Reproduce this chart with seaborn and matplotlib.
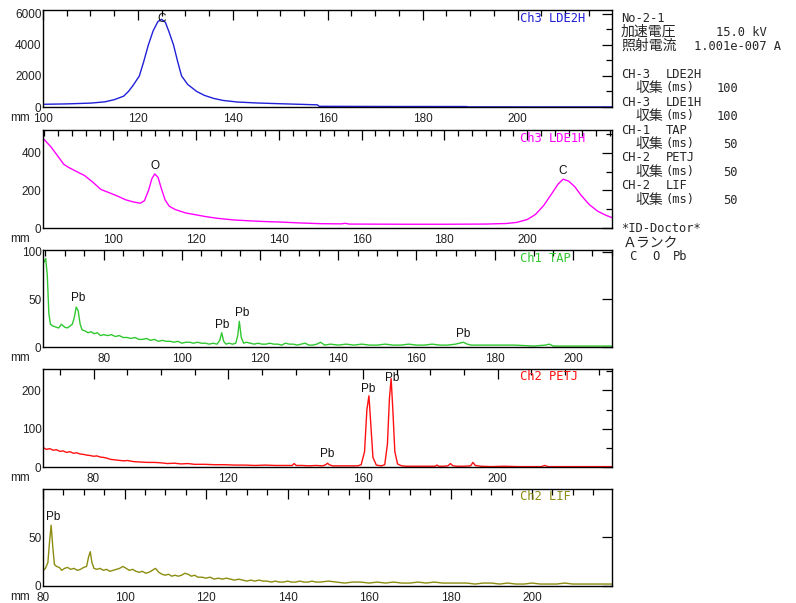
import matplotlib
matplotlib.use("Agg")
import matplotlib.pyplot as plt
import matplotlib.ticker as mticker
import seaborn as sns

sns.set_theme(style="white")
plt.rcParams["font.family"] = ["Liberation Sans", "DejaVu Sans"]
plt.rcParams["axes.edgecolor"] = "black"

W, H = 796, 603
MONO = ["DejaVu Sans Mono", "Noto Sans CJK JP"]
CJK = ["Noto Sans CJK JP", "DejaVu Sans"]

# --- Ch3 LDE2H -------------------------------------------------------------
lde2h_x = [100, 105, 110, 113, 115, 117, 118, 119, 120.3, 121.2,
           122.2, 123.2, 124.2, 125, 125.8, 126.6, 127.5, 128.4, 129.2, 130.5,
           132.4, 134, 136, 138, 141, 145, 150, 157.8, 158.2, 170,
           189.2, 189.6, 200, 210, 220]
lde2h_y = [175, 200, 250, 330, 470, 700, 1000, 1400, 2000, 2900,
           4000, 4900, 5500, 5650, 5450, 4800, 4000, 2900, 2000, 1450,
           1000, 750, 550, 420, 320, 260, 210, 140, 45, 35,
           30, 8, 6, 5, 5]

# --- Ch3 LDE1H -------------------------------------------------------------
lde1h_x = [83, 85, 87, 88, 89, 91, 93, 95, 97, 99,
           101, 103, 105, 106.5, 107.5, 108.5, 109.3, 110, 110.8, 111.6,
           112.5, 113.5, 115, 117.5, 120, 122.5, 125, 129, 133, 137,
           140, 145, 150, 155, 156, 157, 170, 180, 190, 195,
           197.5, 200, 202, 204, 206, 207.5, 208.7, 210, 211.5, 213,
           215, 217, 219, 220.5]
lde1h_y = [478, 430, 370, 340, 325, 302, 280, 245, 205, 188,
           170, 150, 138, 132, 145, 200, 262, 288, 270, 210,
           150, 116, 98, 80, 70, 60, 52, 43, 38, 34,
           32, 27, 23, 22, 25, 21, 20, 20, 21, 24,
           30, 45, 72, 120, 185, 235, 260, 250, 220, 175,
           125, 90, 68, 55]

# --- Ch1 TAP ---------------------------------------------------------------
tap_x = [64.6, 65.2, 65.6, 66.0, 66.4, 67.0, 67.8, 68.5, 69.2, 70.0,
         70.7, 71.4, 72.0, 72.5, 73.0, 73.5, 74.0, 74.5, 75.2, 76.0,
         76.8, 77.6, 78.4, 79.2, 80.0, 81.0, 82.0, 83.0, 84.0, 85.0,
         86, 87, 88, 89, 90, 91, 92, 93, 94, 95,
         96, 97, 98, 99, 100, 101, 102, 103, 104, 105,
         106, 107, 108, 109, 109.7, 110.2, 110.7, 111.3, 112, 113,
         113.8, 114.3, 114.7, 115.2, 115.8, 116.5, 117.5, 118.5, 119.5, 120.5,
         121.5, 122.5, 123.5, 124.5, 125.5, 126.5, 127.5, 128.5, 129.5, 130.5,
         131.5, 132.5, 133.5, 134.5, 135.5, 136.5, 138, 140, 142, 144,
         146, 148, 150, 152, 154, 156, 158, 160, 162, 164,
         166, 168, 170, 171, 172, 173, 174, 176, 180, 185,
         190, 193, 194, 195, 200, 205, 208, 210]
tap_y = [88, 93, 75, 35, 24, 22, 21, 20, 24, 21,
         20, 22, 24, 31, 42, 38, 24, 18, 17, 15,
         16, 14, 15, 12, 13, 12, 13, 11, 12, 10,
         10, 9, 10, 8, 8, 9, 7, 8, 6, 7,
         6, 6, 5, 6, 4, 5, 5, 4, 5, 4,
         4, 3, 4, 3, 7, 15, 6, 3, 4, 3,
         4, 12, 27, 10, 4, 5, 4, 3, 4, 3,
         3, 4, 3, 3, 2, 4, 3, 3, 2, 3,
         4, 2, 2, 3, 5, 2, 3, 2, 3, 2,
         3, 2, 2, 3, 2, 2, 3, 2, 2, 3,
         2, 2, 3, 4, 5, 3, 2, 2, 2, 2,
         1, 2, 3, 1, 1, 1, 1, 1]

# --- Ch2 PETJ --------------------------------------------------------------
petj_x = [65.2, 66, 67, 68, 69, 70, 71, 72, 73, 74,
          75, 76, 77, 78, 79, 80, 81, 82, 83, 84,
          85, 86, 87, 88, 89, 90, 92, 94, 96, 98,
          100, 102, 104, 106, 108, 110, 113, 116, 119, 122,
          125, 128, 131, 134, 137, 139, 139.6, 140.2, 142, 144,
          146, 148, 149, 149.5, 150, 151, 153, 155, 157, 158.5,
          159.5, 160.5, 161.2, 161.8, 162.3, 163, 164, 165.5, 166.5, 167.3,
          167.9, 168.4, 168.9, 169.5, 170.3, 171.5, 173, 176, 179, 181.5,
          182, 182.5, 184, 185.3, 186, 186.8, 188, 190, 192, 192.7,
          193.4, 195, 198, 202, 206, 210, 213, 214, 215, 218,
          222, 226, 230, 234]
petj_y = [50, 46, 48, 44, 45, 41, 42, 38, 40, 36,
          37, 34, 33, 31, 30, 28, 29, 26, 25, 23,
          20, 19, 18, 17, 16, 17, 14, 13, 12, 12,
          11, 9, 10, 8, 9, 7, 7, 6, 6, 5,
          5, 4, 5, 4, 4, 4, 9, 4, 4, 3,
          4, 3, 6, 10, 6, 3, 3, 3, 3, 3,
          6, 40, 150, 186, 120, 25, 5, 3, 6, 60,
          180, 231, 150, 40, 8, 3, 2, 2, 2, 2,
          5, 2, 2, 3, 9, 3, 2, 2, 3, 12,
          4, 2, 1, 2, 1, 1, 1, 4, 1, 1,
          1, 1, 1, 1]

# --- Ch2 LIF ---------------------------------------------------------------
lif_x = [80.1, 80.6, 81.2, 81.6, 82.0, 82.4, 82.8, 83.3, 84.0, 84.6,
         85.3, 86.0, 86.8, 87.6, 88.4, 89.2, 90.0, 90.7, 91.2, 91.6,
         92.0, 92.5, 93.2, 94.0, 94.8, 95.6, 96.4, 97.2, 98.0, 98.8,
         99.6, 100.4, 101.2, 102.0, 102.8, 103.6, 104.4, 105.2, 106.0, 106.8,
         107.6, 108.4, 109.2, 110.0, 110.8, 111.6, 112.4, 113.2, 114.0, 114.8,
         115.6, 116.4, 117.2, 118.0, 119, 120, 121, 122, 123, 124,
         125, 126, 127, 128, 129, 130, 131, 132, 133, 134,
         135, 136, 137, 138, 139, 140, 141, 142, 143, 144,
         145, 146, 147, 148, 150, 152, 154, 156, 158, 160,
         162, 164, 166, 168, 170, 172, 174, 176, 178, 180,
         182, 184, 186, 188, 190, 192, 194, 196, 198, 200,
         202, 204, 206, 208, 210, 212, 214, 216, 218, 219.5]
lif_y = [16, 18, 24, 45, 62, 40, 22, 20, 19, 16,
         18, 19, 17, 18, 16, 17, 19, 20, 30, 35,
         24, 18, 17, 18, 16, 17, 15, 16, 17, 18,
         20, 18, 16, 17, 15, 14, 15, 13, 14, 16,
         18, 14, 12, 11, 12, 10, 11, 10, 11, 13,
         12, 10, 11, 9, 9, 8, 9, 7, 8, 7,
         8, 7, 6, 7, 6, 5, 6, 5, 6, 5,
         5, 4, 5, 4, 4, 5, 4, 4, 5, 4,
         4, 5, 4, 4, 5, 4, 3, 4, 4, 3,
         4, 3, 4, 3, 3, 4, 3, 4, 3, 3,
         3, 3, 2, 3, 3, 2, 3, 2, 2, 3,
         2, 2, 2, 3, 2, 2, 2, 2, 2, 2]

# peak labels: (x, y, text)
lde2h_peaks = [(125, 5700, "C")]
lde1h_peaks = [(110, 330, "O"), (208.6, 305, "C")]
tap_peaks = [(73.5, 52, "Pb"), (110.2, 23, "Pb"), (115.5, 36, "Pb"), (172, 14, "Pb")]
petj_peaks = [(149.5, 34, "Pb"), (161.6, 204, "Pb"), (168.6, 232, "Pb")]
lif_peaks = [(82.5, 70, "Pb")]

# condition block on the right (pixel x, pixel y, text)
INFO_MONO = [
    (621, 18, "No-2-1"),
    (716, 32, "15.0 kV"),
    (694, 46, "1.001e-007 A"),
    (621, 74, "CH-3"), (666, 74, "LDE2H"), (665, 88, "(ms)"),
    (621, 102, "CH-3"), (666, 102, "LDE1H"), (665, 116, "(ms)"),
    (621, 130, "CH-1"), (666, 130, "TAP"), (665, 144, "(ms)"),
    (621, 158, "CH-2"), (666, 158, "PETJ"), (665, 172, "(ms)"),
    (621, 186, "CH-2"), (666, 186, "LIF"), (665, 200, "(ms)"),
    (621, 229, "*ID-Doctor*"),
    (629, 256, "C"), (652, 256, "O"), (673, 256, "Pb"),
]
INFO_CJK = [
    (621, 32, "加速電圧"), (621, 46, "照射電流"),
    (636, 88, "収集"), (636, 116, "収集"), (636, 144, "収集"),
    (636, 172, "収集"), (636, 200, "収集"),
    (623, 242, "Ａランク"),
]
ACQ_MS = [(88, "100"), (116, "100"), (144, "50"), (172, "50"), (200, "50")]

panels = [
    dict(x=lde2h_x, y=lde2h_y, color="#2020d8", label="Ch3 LDE2H", top=10, bottom=107,
         xlim=(100, 219.9), ylim=(0, 6250), xmaj=range(100, 201, 20), xmin=5,
         ymaj=[0, 2000, 4000, 6000], ymin=1000, peaks=lde2h_peaks),
    dict(x=lde1h_x, y=lde1h_y, color="#ff00ff", label="Ch3 LDE1H", top=130, bottom=228,
         xlim=(83, 220.5), ylim=(0, 522), xmaj=range(100, 201, 20), xmin=20 / 6,
         ymaj=[0, 200, 400], ymin=100, peaks=lde1h_peaks),
    dict(x=tap_x, y=tap_y, color="#30c830", label="Ch1 TAP", top=250, bottom=347,
         xlim=(64.5, 210), ylim=(0, 102), xmaj=range(80, 201, 20), xmin=5,
         ymaj=[0, 50, 100], ymin=50, peaks=tap_peaks),
    dict(x=petj_x, y=petj_y, color="#ff1010", label="Ch2 PETJ", top=369, bottom=467,
         xlim=(65, 234), ylim=(0, 256), xmaj=range(80, 201, 40), xmin=10,
         ymaj=[0, 100, 200], ymin=50, peaks=petj_peaks),
    dict(x=lif_x, y=lif_y, color="#8c8c10", label="Ch2 LIF", top=489, bottom=586,
         xlim=(80, 219.6), ylim=(0, 99), xmaj=range(80, 201, 20), xmin=5,
         ymaj=[0, 50], ymin=50, peaks=lif_peaks),
]

fig = plt.figure(figsize=(W / 100, H / 100), dpi=100)

for p in panels:
    ax = fig.add_axes([43 / W, 1 - p["bottom"] / H, 569 / W, (p["bottom"] - p["top"]) / H])
    sns.lineplot(x=p["x"], y=p["y"], ax=ax, color=p["color"], linewidth=1.0)
    ax.set_xlim(*p["xlim"])
    ax.set_ylim(*p["ylim"])
    ax.set_xticks(list(p["xmaj"]))
    ax.set_yticks(p["ymaj"])
    ax.xaxis.set_minor_locator(mticker.MultipleLocator(p["xmin"]))
    ax.yaxis.set_minor_locator(mticker.MultipleLocator(p["ymin"]))
    ax.tick_params(which="both", direction="in", top=True, right=True,
                   width=0.9, color="black", labelsize=8.5, labelcolor="#222222")
    ax.tick_params(which="major", length=7)
    ax.tick_params(which="minor", length=4)
    ax.tick_params(axis="x", pad=4.5)
    ax.tick_params(axis="y", pad=1)
    for s in ax.spines.values():
        s.set_color("black")
        s.set_linewidth(1.0)
    ax.set_xlabel("")
    ax.set_ylabel("")
    for px, py, txt in p["peaks"]:
        ax.text(px, py, txt, ha="center", va="center", fontsize=8.5, color="#111111")
    fig.text(520 / W, 1 - (p["top"] + 8) / H, p["label"], color=p["color"],
             fontsize=8.7, family=MONO, ha="left", va="center")
    fig.text(30 / W, 1 - (p["bottom"] + 11) / H, "mm", fontsize=8.5,
             ha="right", va="center", color="#222222")

for x, y, txt in INFO_MONO:
    fig.text(x / W, 1 - y / H, txt, fontsize=8.7, family=MONO, ha="left", va="center")
for x, y, txt in INFO_CJK:
    fig.text(x / W, 1 - y / H, txt, fontsize=10, family=CJK, ha="left", va="center")
for y, txt in ACQ_MS:
    fig.text(738 / W, 1 - y / H, txt, fontsize=8.7, family=MONO, ha="right", va="center")

fig.savefig("out.png", dpi=100)
